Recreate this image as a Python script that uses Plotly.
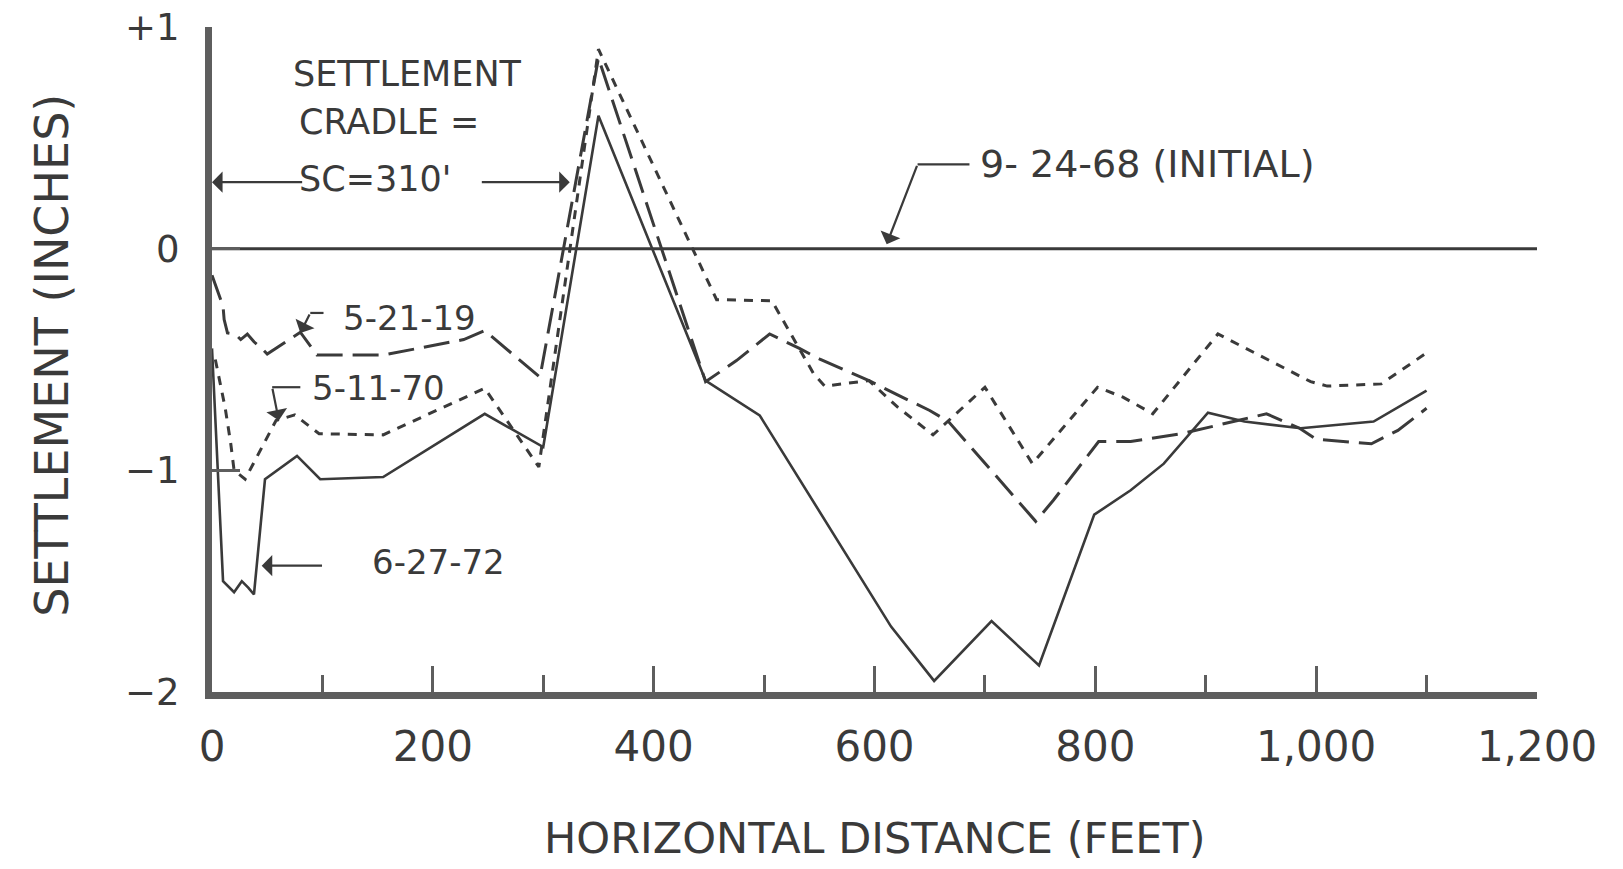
import plotly.graph_objects as go

# Settlement profiles along the embankment: horizontal distance (ft) vs settlement (in)
dist_initial = [0, 1200]
settle_initial = [0, 0]

dist_5_21_19 = [0, 3, 10, 11, 14, 21, 26, 32, 38, 45, 50, 80, 95, 155, 228, 247, 268, 297,
                350, 447, 475, 505, 532, 551, 581, 595, 625, 650, 667, 746, 762, 784, 803,
                832, 878, 929, 955, 985, 1000, 1050, 1074, 1100]
settle_5_21_19 = [-0.12, -0.16, -0.26, -0.32, -0.38, -0.385, -0.41, -0.385, -0.42, -0.45, -0.475,
                  -0.377, -0.48, -0.48, -0.41, -0.37, -0.46, -0.58,
                  0.86, -0.6, -0.505, -0.385, -0.45, -0.5, -0.565, -0.595, -0.67, -0.73, -0.78,
                  -1.23, -1.135, -0.99, -0.87, -0.87, -0.835, -0.775, -0.745, -0.81, -0.86,
                  -0.88, -0.82, -0.72]

dist_5_11_70 = [3, 12, 17, 20, 30, 58, 75, 97, 155, 247, 296, 350, 457, 507, 545, 555, 595,
                621, 653, 700, 743, 802, 825, 852, 911, 995, 1010, 1059, 1100]
settle_5_11_70 = [-0.5, -0.72, -0.88, -1.0, -1.04, -0.775, -0.75, -0.835, -0.84, -0.63, -0.985,
                  0.9, -0.23, -0.235, -0.565, -0.62, -0.595, -0.715, -0.84, -0.625, -0.97,
                  -0.625, -0.67, -0.745, -0.385, -0.6, -0.62, -0.61, -0.47]

dist_6_27_72 = [0, 10, 20, 27, 33, 38, 48, 77, 98, 155, 247, 300, 350, 447, 496, 615, 654,
                706, 749, 799, 832, 862, 902, 935, 986, 1052, 1100]
settle_6_27_72 = [-0.45, -1.5, -1.55, -1.5, -1.53, -1.56, -1.04, -0.935, -1.04, -1.03, -0.745,
                  -0.895, 0.6, -0.595, -0.752, -1.705, -1.95, -1.68, -1.88, -1.2, -1.09, -0.97,
                  -0.74, -0.78, -0.81, -0.78, -0.64]

x_tick_vals = [0, 200, 400, 600, 800, 1000, 1200]
y_tick_vals = [-2, -1, 0, 1]
y_tick_text = ["\u22122", "\u22121", "0", "+1"]

INK = "#3a3a3a"
AXIS_INK = "#5e5e5e"
FONT = "DejaVu Sans"

fig = go.Figure()

fig.add_trace(go.Scatter(x=dist_initial, y=settle_initial, mode="lines",
                         name="9-24-68 (INITIAL)",
                         line=dict(color=INK, width=3)))
fig.add_trace(go.Scatter(x=dist_5_21_19, y=settle_5_21_19, mode="lines",
                         name="5-21-19",
                         line=dict(color=INK, width=3, dash="26px,10px")))
fig.add_trace(go.Scatter(x=dist_5_11_70, y=settle_5_11_70, mode="lines",
                         name="5-11-70",
                         line=dict(color=INK, width=3, dash="9px,8px")))
fig.add_trace(go.Scatter(x=dist_6_27_72, y=settle_6_27_72, mode="lines",
                         name="6-27-72",
                         line=dict(color=INK, width=2.6)))


def label(text, x, y, size=34, xanchor="center"):
    fig.add_annotation(x=x, y=y, xref="x", yref="y", text=text, showarrow=False,
                       xanchor=xanchor, yanchor="middle",
                       font=dict(family=FONT, size=size, color=INK))


def arrow(tip_x, tip_y, tail_x, tail_y):
    fig.add_annotation(x=tip_x, y=tip_y, ax=tail_x, ay=tail_y, xref="x", yref="y",
                       axref="x", ayref="y", text="", showarrow=True,
                       arrowhead=1, arrowsize=1.6, arrowwidth=2.2, arrowcolor=INK)


def leader(x0, y0, x1, y1):
    fig.add_shape(type="line", x0=x0, y0=y0, x1=x1, y1=y1, xref="x", yref="y",
                  line=dict(color=INK, width=2.2))


# Settlement cradle callout
label("SETTLEMENT", 177, 0.79, size=35)
label("CRADLE =", 160, 0.57, size=35)
label("SC=310'", 148, 0.315, size=35)
arrow(0, 0.30, 83, 0.30)
arrow(324, 0.30, 243, 0.30)

# Survey date callouts
label("9- 24-68 (INITIAL)", 694, 0.38, size=38, xanchor="left")
leader(686, 0.38, 639, 0.38)
arrow(611, 0.02, 639, 0.38)

label("5-21-19", 179, -0.315)
leader(101, -0.29, 89, -0.29)
arrow(80, -0.38, 89, -0.29)

label("5-11-70", 151, -0.63)
leader(80, -0.625, 54.5, -0.625)
arrow(60.5, -0.775, 54.5, -0.625)

label("6-27-72", 205, -1.415)
arrow(45, -1.43, 101, -1.43)

# Axis titles
fig.add_annotation(x=0.5, y=-0.2195, xref="paper", yref="paper",
                   text="HORIZONTAL DISTANCE (FEET)", showarrow=False,
                   xanchor="center", yanchor="middle",
                   font=dict(family=FONT, size=43, color=INK))
fig.add_annotation(x=-0.1208, y=0.507, xref="paper", yref="paper",
                   text="SETTLEMENT (INCHES)", showarrow=False, textangle=-90,
                   xanchor="center", yanchor="middle",
                   font=dict(family=FONT, size=46, color=INK))

fig.update_xaxes(range=[0, 1200], showline=True, linewidth=7, linecolor=AXIS_INK,
                 ticks="inside", ticklen=26, tickwidth=3, tickcolor=AXIS_INK,
                 tickvals=x_tick_vals, tickformat=",d",
                 tickfont=dict(family=FONT, size=42, color=INK),
                 ticklabelstandoff=12, automargin=False,
                 minor=dict(dtick=100, tick0=0, ticks="inside", ticklen=17, tickwidth=3,
                            tickcolor=AXIS_INK, showgrid=False),
                 showgrid=False, zeroline=False)
fig.update_yaxes(range=[-2, 1], showline=True, linewidth=7, linecolor=AXIS_INK,
                 ticks="inside", ticklen=28, tickwidth=3, tickcolor=AXIS_INK,
                 tickvals=y_tick_vals, ticktext=y_tick_text,
                 tickfont=dict(family=FONT, size=37, color=INK),
                 ticklabelstandoff=18, automargin=False,
                 showgrid=False, zeroline=False)

fig.update_layout(width=1623, height=869,
                  margin=dict(l=212, r=86, t=27, b=177),
                  plot_bgcolor="white", paper_bgcolor="white",
                  showlegend=False)

fig.write_html("out.html")
